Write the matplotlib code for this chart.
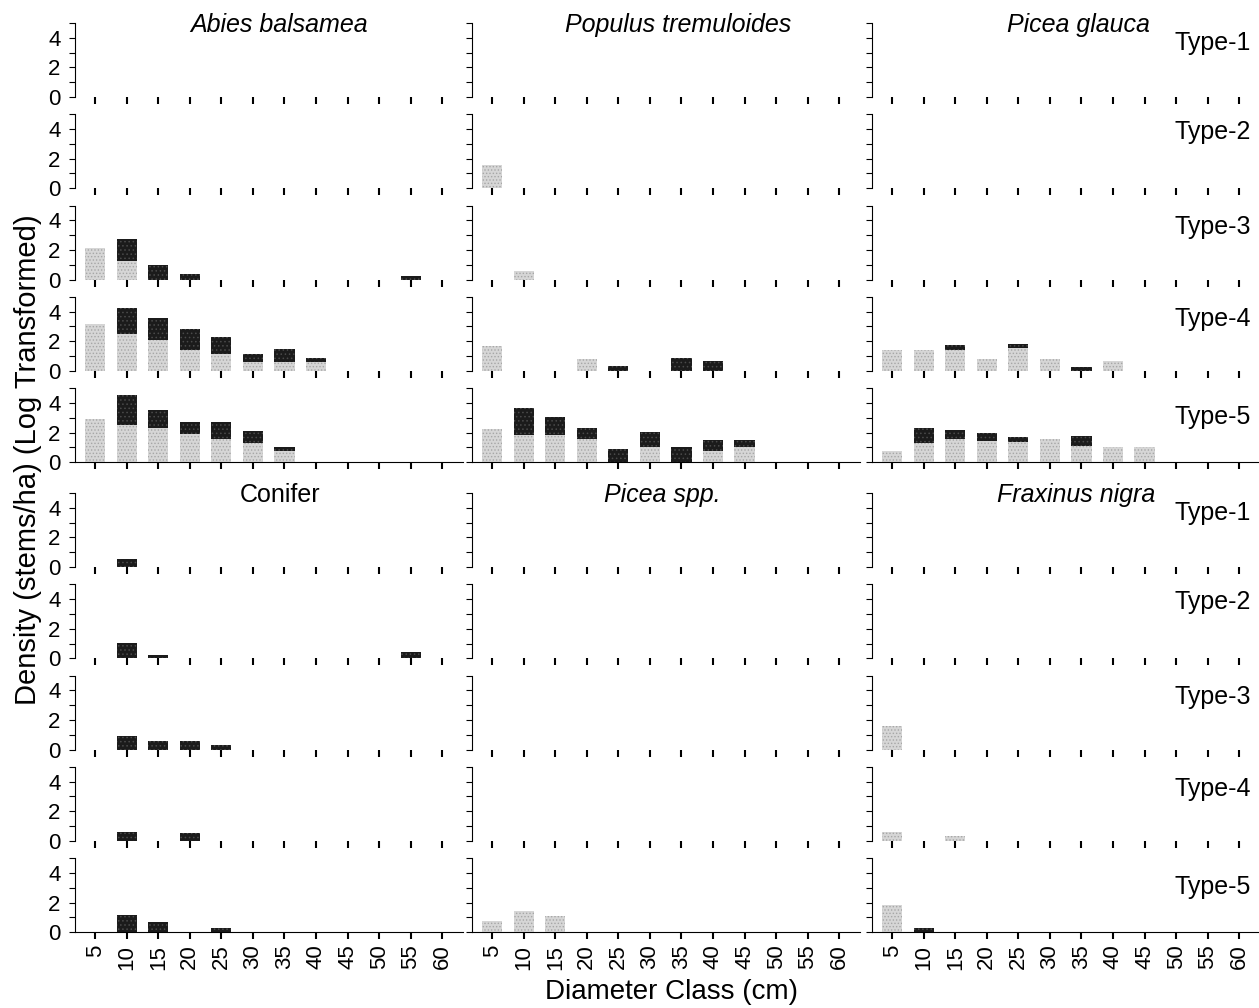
import matplotlib
matplotlib.use("Agg")
import matplotlib.pyplot as plt
from matplotlib.ticker import MultipleLocator

plt.rcParams['font.family'] = ['Liberation Sans', 'DejaVu Sans']
plt.rcParams['hatch.linewidth'] = 0.6

# diameter classes (cm) and stand types
classes = [5, 10, 15, 20, 25, 30, 35, 40, 45, 50, 55, 60]
types = ["Type-1", "Type-2", "Type-3", "Type-4", "Type-5"]
species = ["Abies balsamea", "Populus tremuloides", "Picea glauca",
           "Conifer", "Picea spp.", "Fraxinus nigra"]

# light = lower (stippled) segment, dark = upper segment, log density
# one row per type, one value per diameter class
abies_light = [
    [0, 0, 0, 0, 0, 0, 0, 0, 0, 0, 0, 0],
    [0, 0, 0, 0, 0, 0, 0, 0, 0, 0, 0, 0],
    [2.15, 1.27, 0, 0, 0, 0, 0, 0, 0, 0, 0, 0],
    [3.2, 2.5, 2.1, 1.38, 1.15, 0.6, 0.6, 0.6, 0, 0, 0, 0],
    [2.9, 2.53, 2.3, 1.92, 1.56, 1.33, 0.77, 0, 0, 0, 0, 0],
]
abies_dark = [
    [0, 0, 0, 0, 0, 0, 0, 0, 0, 0, 0, 0],
    [0, 0, 0, 0, 0, 0, 0, 0, 0, 0, 0, 0],
    [0, 1.5, 1.0, 0.4, 0, 0, 0, 0, 0, 0, 0.25, 0],
    [0, 1.75, 1.47, 1.47, 1.11, 0.55, 0.85, 0.26, 0, 0, 0, 0],
    [0, 2.04, 1.25, 0.82, 1.17, 0.79, 0.29, 0, 0, 0, 0, 0],
]
populus_light = [
    [0, 0, 0, 0, 0, 0, 0, 0, 0, 0, 0, 0],
    [1.55, 0, 0, 0, 0, 0, 0, 0, 0, 0, 0, 0],
    [0, 0.6, 0, 0, 0, 0, 0, 0, 0, 0, 0, 0],
    [1.65, 0, 0, 0.8, 0, 0, 0, 0, 0, 0, 0, 0],
    [2.26, 1.83, 1.83, 1.54, 0, 1.04, 0, 0.75, 1.04, 0, 0, 0],
]
populus_dark = [
    [0, 0, 0, 0, 0, 0, 0, 0, 0, 0, 0, 0],
    [0, 0, 0, 0, 0, 0, 0, 0, 0, 0, 0, 0],
    [0, 0, 0, 0, 0, 0, 0, 0, 0, 0, 0, 0],
    [0, 0, 0, 0, 0.35, 0, 0.85, 0.7, 0, 0, 0, 0],
    [0, 1.81, 1.22, 0.76, 0.86, 0.99, 1.04, 0.74, 0.43, 0, 0, 0],
]
glauca_light = [
    [0, 0, 0, 0, 0, 0, 0, 0, 0, 0, 0, 0],
    [0, 0, 0, 0, 0, 0, 0, 0, 0, 0, 0, 0],
    [0, 0, 0, 0, 0, 0, 0, 0, 0, 0, 0, 0],
    [1.4, 1.4, 1.4, 0.79, 1.58, 0.79, 0, 0.66, 0, 0, 0, 0],
    [0.79, 1.29, 1.56, 1.42, 1.36, 1.58, 1.08, 1.02, 1.02, 0, 0, 0],
]
glauca_dark = [
    [0, 0, 0, 0, 0, 0, 0, 0, 0, 0, 0, 0],
    [0, 0, 0, 0, 0, 0, 0, 0, 0, 0, 0, 0],
    [0, 0, 0, 0, 0, 0, 0, 0, 0, 0, 0, 0],
    [0, 0, 0.34, 0, 0.27, 0, 0.25, 0, 0, 0, 0, 0],
    [0, 1.04, 0.59, 0.55, 0.33, 0, 0.68, 0, 0, 0, 0, 0],
]
conifer_light = [
    [0, 0, 0, 0, 0, 0, 0, 0, 0, 0, 0, 0],
    [0, 0, 0, 0, 0, 0, 0, 0, 0, 0, 0, 0],
    [0, 0, 0, 0, 0, 0, 0, 0, 0, 0, 0, 0],
    [0, 0, 0, 0, 0, 0, 0, 0, 0, 0, 0, 0],
    [0, 0, 0, 0, 0, 0, 0, 0, 0, 0, 0, 0],
]
conifer_dark = [
    [0, 0.57, 0, 0, 0, 0, 0, 0, 0, 0, 0, 0],
    [0, 1.04, 0.2, 0, 0, 0, 0, 0, 0, 0, 0.4, 0],
    [0, 0.9, 0.56, 0.6, 0.3, 0, 0, 0, 0, 0, 0, 0],
    [0, 0.6, 0, 0.5, 0, 0, 0, 0, 0, 0, 0, 0],
    [0, 1.15, 0.66, 0, 0.3, 0, 0, 0, 0, 0, 0, 0],
]
piceaspp_light = [
    [0, 0, 0, 0, 0, 0, 0, 0, 0, 0, 0, 0],
    [0, 0, 0, 0, 0, 0, 0, 0, 0, 0, 0, 0],
    [0, 0, 0, 0, 0, 0, 0, 0, 0, 0, 0, 0],
    [0, 0, 0, 0, 0, 0, 0, 0, 0, 0, 0, 0],
    [0.79, 1.42, 1.08, 0, 0, 0, 0, 0, 0, 0, 0, 0],
]
piceaspp_dark = [
    [0, 0, 0, 0, 0, 0, 0, 0, 0, 0, 0, 0],
    [0, 0, 0, 0, 0, 0, 0, 0, 0, 0, 0, 0],
    [0, 0, 0, 0, 0, 0, 0, 0, 0, 0, 0, 0],
    [0, 0, 0, 0, 0, 0, 0, 0, 0, 0, 0, 0],
    [0, 0, 0, 0, 0, 0, 0, 0, 0, 0, 0, 0],
]
fraxinus_light = [
    [0, 0, 0, 0, 0, 0, 0, 0, 0, 0, 0, 0],
    [0, 0, 0, 0, 0, 0, 0, 0, 0, 0, 0, 0],
    [1.6, 0, 0, 0, 0, 0, 0, 0, 0, 0, 0, 0],
    [0.6, 0, 0.32, 0, 0, 0, 0, 0, 0, 0, 0, 0],
    [1.85, 0, 0, 0, 0, 0, 0, 0, 0, 0, 0, 0],
]
fraxinus_dark = [
    [0, 0, 0, 0, 0, 0, 0, 0, 0, 0, 0, 0],
    [0, 0, 0, 0, 0, 0, 0, 0, 0, 0, 0, 0],
    [0, 0, 0, 0, 0, 0, 0, 0, 0, 0, 0, 0],
    [0, 0, 0, 0, 0, 0, 0, 0, 0, 0, 0, 0],
    [0, 0.27, 0, 0, 0, 0, 0, 0, 0, 0, 0, 0],
]

lights = [abies_light, populus_light, glauca_light,
          conifer_light, piceaspp_light, fraxinus_light]
darks = [abies_dark, populus_dark, glauca_dark,
         conifer_dark, piceaspp_dark, fraxinus_dark]

# layout in pixels
W, H = 1259, 1008
col_left = [75, 472, 872]
col_width = 388
group_zero = [97, 567]
row_step = 91.3
ax_h = 74
title_x = [0.526, 0.531, 0.533, 0.528, 0.49, 0.527]
type_y = [0.64, 0.66, 0.62, 0.6, 0.52]

fig = plt.figure(figsize=(W / 100, H / 100), dpi=100)

for g in range(2):
    for c in range(3):
        s = g * 3 + c
        for r in range(5):
            zero = group_zero[g] + r * row_step
            ax = fig.add_axes([col_left[c] / W, 1 - zero / H, col_width / W, ax_h / H])
            light = lights[s][r]
            dark = darks[s][r]
            ax.bar(classes, light, width=3.2, color='#d6d6d6', edgecolor='#a6a6a6',
                   hatch='.....', linewidth=0)
            ax.bar(classes, dark, width=3.2, bottom=light, color='#1b1b1b',
                   edgecolor='#4a4a4a', hatch='....', linewidth=0)
            ax.set_xlim(1.8, 63.3)
            ax.set_ylim(0, 5)
            ax.set_xticks(classes)
            ax.set_yticks([0, 2, 4])
            ax.yaxis.set_minor_locator(MultipleLocator(1))
            ax.tick_params(axis='x', direction='out', length=5, width=1.5,
                           labelsize=16, labelrotation=90, pad=4,
                           labelbottom=(r == 4 and g == 1))
            ax.tick_params(axis='y', which='both', direction='out', length=4.5,
                           width=0.8, labelsize=16, pad=6, labelleft=(c == 0))
            ax.spines['top'].set_visible(False)
            ax.spines['right'].set_visible(False)
            ax.spines['left'].set_linewidth(0.8)
            ax.spines['bottom'].set_linewidth(0.8)
            ax.spines['bottom'].set_visible(r == 4)
            ax.patch.set_alpha(0)

            if r == 0:
                ax.text(title_x[s], 0.88, species[s], transform=ax.transAxes,
                        ha='center', va='baseline', fontsize=18,
                        style='normal' if species[s] == "Conifer" else 'italic')
            if c == 2:
                ax.text(0.977, type_y[r], types[r], transform=ax.transAxes,
                        ha='right', va='baseline', fontsize=18)

fig.text(0.022, 1 - 705 / H, "Density (stems/ha) (Log Transformed)",
         rotation=90, ha='center', va='bottom', fontsize=21)
fig.text(0.533, 1 - 992 / H, "Diameter Class (cm)", ha='center', va='center',
         fontsize=20)

fig.savefig("out.png", dpi=100)
